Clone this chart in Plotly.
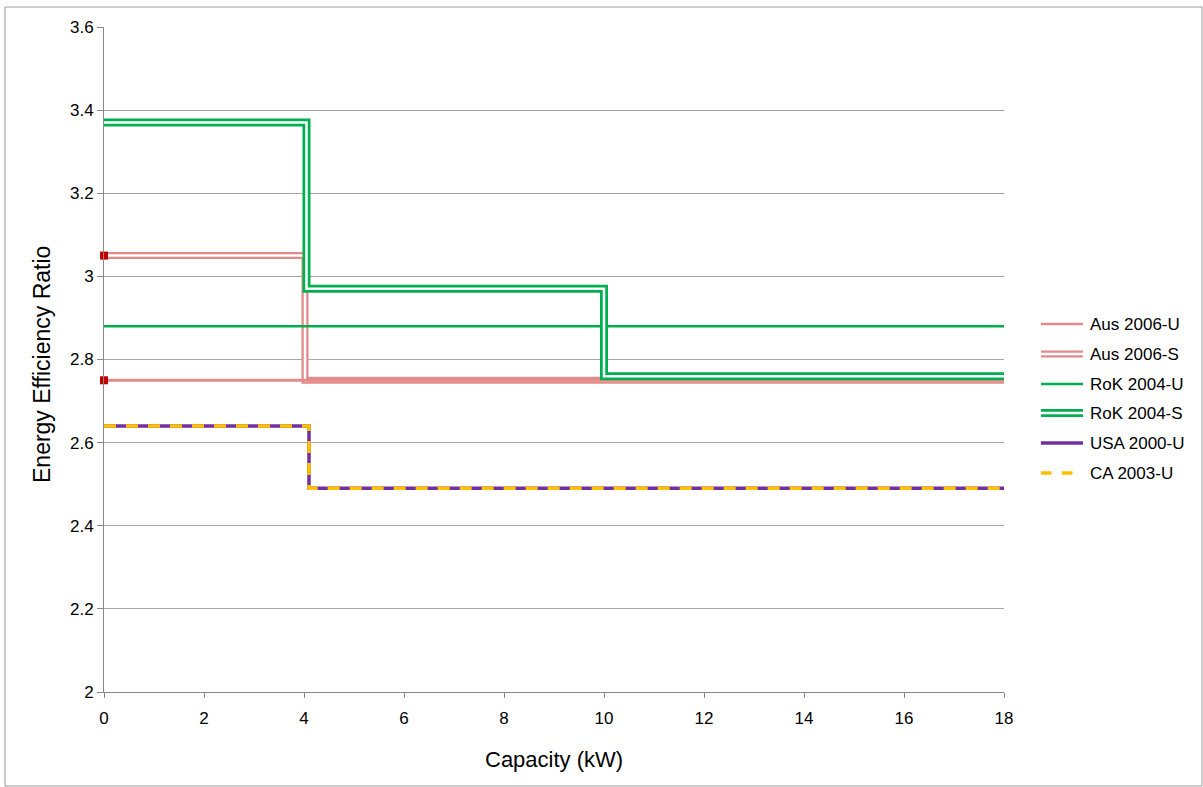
import plotly.graph_objects as go

# ---- data ----
aus_u_x = [0, 18]
aus_u_y = [2.75, 2.75]
aus_s_x = [0, 4.02, 18]
aus_s_y = [3.05, 2.75, 2.75]
rok_u_x = [0, 18]
rok_u_y = [2.88, 2.88]
rok_s_x = [0, 4.05, 10, 18]
rok_s_y = [3.37, 2.97, 2.76, 2.76]
usa_x = [0, 4.1, 18]
usa_y = [2.64, 2.49, 2.49]
ca_x = [0, 4.1, 18]
ca_y = [2.64, 2.49, 2.49]
marker_x = [0, 0]
marker_y = [aus_s_y[0], aus_u_y[0]]

legend_names = ["Aus 2006-U", "Aus 2006-S", "RoK 2004-U", "RoK 2004-S", "USA 2000-U", "CA 2003-U"]
x_ticks = [0, 2, 4, 6, 8, 10, 12, 14, 16, 18]
y_ticks = [2, 2.2, 2.4, 2.6, 2.8, 3, 3.2, 3.4, 3.6]
y_tick_text = ["2", "2.2", "2.4", "2.6", "2.8", "3", "3.2", "3.4", "3.6"]

PINK = "#E48A8A"
GREEN = "#00B050"
PURPLE = "#7030A0"
YELLOW = "#FFC000"
RED = "#C00000"
FONT = "Liberation Sans, Arial"

fig = go.Figure()

def add(x, y, color, width, dash="solid"):
    fig.add_trace(go.Scatter(x=x, y=y, mode="lines", line=dict(color=color, width=width, dash=dash, shape="hv"),
                             showlegend=False, hoverinfo="skip"))

# Aus 2006-S (double line)
add(aus_s_x, aus_s_y, PINK, 7)
add(aus_s_x, aus_s_y, "white", 2.5)
# Aus 2006-U
add(aus_u_x, aus_u_y, PINK, 3)
# RoK 2004-U
add(rok_u_x, rok_u_y, GREEN, 2.5)
# RoK 2004-S (double line)
add(rok_s_x, rok_s_y, GREEN, 8)
add(rok_s_x, rok_s_y, "white", 2.5)
# USA
add(usa_x, usa_y, PURPLE, 3.5)
# CA
add(ca_x, ca_y, YELLOW, 3.5, dash="12px,10px")

fig.add_trace(go.Scatter(x=marker_x, y=marker_y, mode="markers", cliponaxis=False,
                         marker=dict(symbol="square", size=8, color=RED), showlegend=False, hoverinfo="skip"))

# ---- layout geometry ----
W, H = 1203, 787
L, R, T, B = 104, 199, 27, 95
pw, ph = W - L - R, H - T - B

def px(xp):
    return (xp - L) / pw

def py(yp):
    return (H - B - yp) / ph

# ---- manual legend ----
leg_y = [324, 354, 384, 413, 443, 473]
styles = [
    [(PINK, 2.5, None)],
    [(PINK, 7, None), ("white", 2.5, None)],
    [(GREEN, 2.5, None)],
    [(GREEN, 8, None), ("white", 2.5, None)],
    [(PURPLE, 3.5, None)],
    [(YELLOW, 3.5, "dash")],
]
shapes = []
for yy, st in zip(leg_y, styles):
    for col, wdt, dsh in st:
        shapes.append(dict(type="line", xref="paper", yref="paper",
                           x0=px(1041), x1=px(1083), y0=py(yy), y1=py(yy),
                           line=dict(color=col, width=wdt, dash=dsh or "solid")))
annotations = []
for yy, name in zip(leg_y, legend_names):
    annotations.append(dict(xref="paper", yref="paper", x=px(1088), y=py(yy), text=name,
                            showarrow=False, xanchor="left", yanchor="middle",
                            font=dict(family=FONT, size=17, color="black")))

# axis titles
annotations.append(dict(xref="paper", yref="paper", x=px(554), y=py(759), text="Capacity (kW)",
                        showarrow=False, xanchor="center", yanchor="middle",
                        font=dict(family=FONT, size=22, color="black")))
annotations.append(dict(xref="paper", yref="paper", x=px(42), y=py(365), text="Energy Efficiency Ratio",
                        showarrow=False, xanchor="center", yanchor="middle", textangle=-90,
                        font=dict(family=FONT, size=23, color="black")))

# outer frame
shapes.append(dict(type="rect", xref="paper", yref="paper", x0=px(5), x1=px(1202), y0=py(786), y1=py(7),
                   line=dict(color="#9A9A9A", width=1), fillcolor="rgba(0,0,0,0)", layer="below"))

fig.update_layout(
    width=W, height=H,
    margin=dict(l=L, r=R, t=T, b=B),
    paper_bgcolor="white", plot_bgcolor="white",
    font=dict(family=FONT, size=17, color="black"),
    shapes=shapes, annotations=annotations,
    showlegend=False,
    xaxis=dict(range=[0, 18], tickvals=x_ticks, showgrid=False, zeroline=False,
               showline=True, linecolor="#888888", linewidth=1, ticks="outside", ticklen=5, tickcolor="#888888",
               tickfont=dict(family=FONT, size=17), ticklabelstandoff=6),
    yaxis=dict(range=[2, 3.6], tickvals=y_ticks, ticktext=y_tick_text,
               showgrid=True, gridcolor="#A6A6A6", gridwidth=1, zeroline=False,
               showline=True, linecolor="#888888", linewidth=1, ticks="outside", ticklen=6, tickcolor="#888888",
               tickfont=dict(family=FONT, size=17)),
)

fig.write_html("out.html", config={"displayModeBar": False},
               post_script="document.body.style.margin='0px';")
